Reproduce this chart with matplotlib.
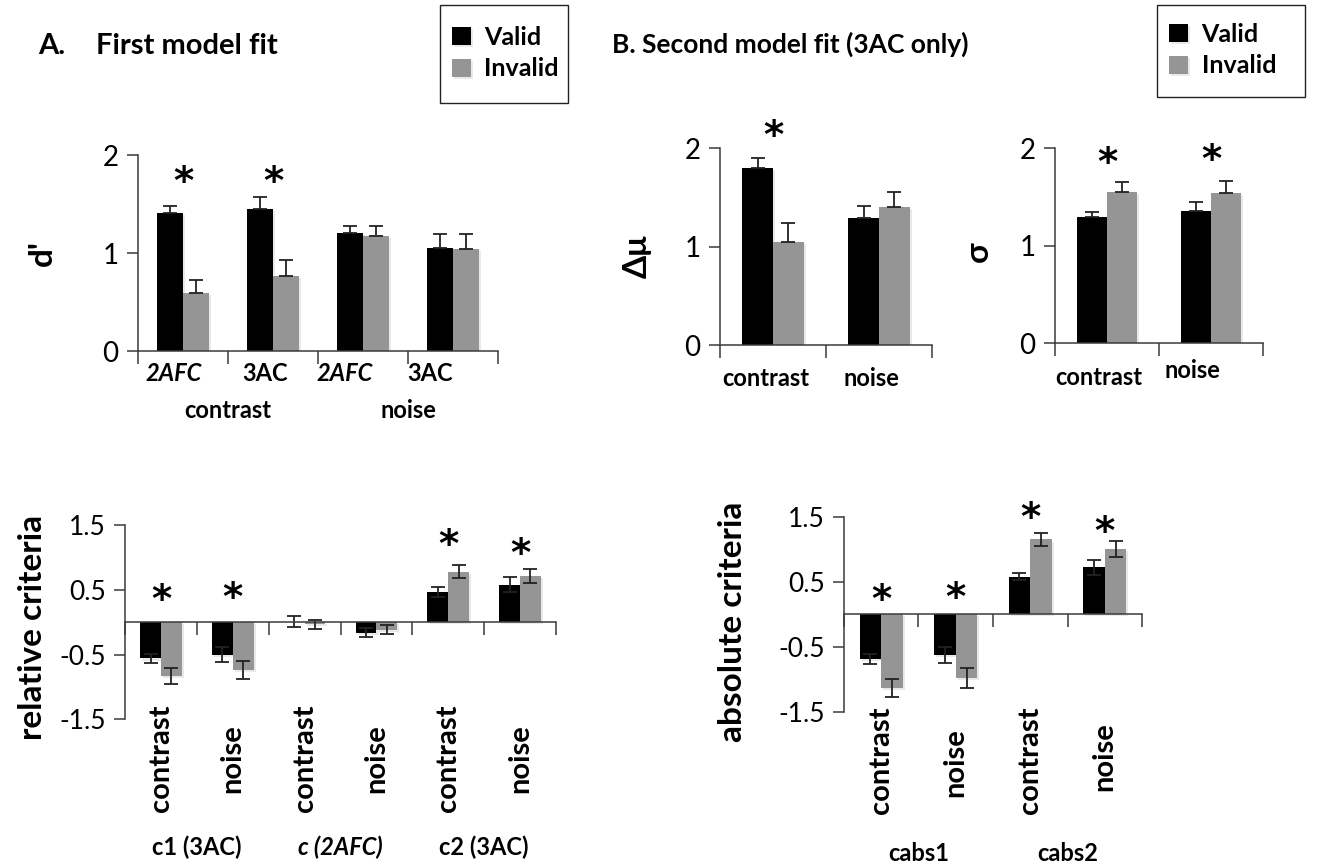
import numpy as np
import matplotlib
matplotlib.use("Agg")
import matplotlib.pyplot as plt
import matplotlib.transforms as mtransforms
from matplotlib import patheffects as pe
from matplotlib.patches import Rectangle

plt.rcParams['font.family'] = ['Lato', 'DejaVu Sans']

# ---------------- data ----------------
dprime_cats = ["2AFC", "3AC", "2AFC", "3AC"]
dprime_groups = ["contrast", "noise"]
dprime_valid = [1.41, 1.445, 1.20, 1.05]
dprime_valid_err = [0.07, 0.13, 0.075, 0.14]
dprime_invalid = [0.595, 0.77, 1.17, 1.04]
dprime_invalid_err = [0.125, 0.16, 0.105, 0.15]
dprime_stars = [1.82, 1.82, None, None]

mu_cats = ["contrast", "noise"]
mu_valid = [1.80, 1.29]
mu_valid_err = [0.105, 0.12]
mu_invalid = [1.05, 1.40]
mu_invalid_err = [0.19, 0.16]
mu_stars = [2.22, None]

sig_cats = ["contrast", "noise"]
sig_valid = [1.29, 1.36]
sig_valid_err = [0.055, 0.085]
sig_invalid = [1.55, 1.54]
sig_invalid_err = [0.105, 0.125]
sig_stars = [1.95, 1.98]

rel_cats = ["contrast", "noise", "contrast", "noise", "contrast", "noise"]
rel_groups = ["c1 (3AC)", "c (2AFC)", "c2 (3AC)"]
rel_valid = [-0.56, -0.50, 0.01, -0.16, 0.46, 0.58]
rel_valid_err = [0.07, 0.12, 0.08, 0.07, 0.075, 0.12]
rel_invalid = [-0.83, -0.74, -0.03, -0.12, 0.78, 0.715]
rel_invalid_err = [0.12, 0.14, 0.07, 0.07, 0.10, 0.11]
rel_stars = [0.49, 0.52, None, None, 1.34, 1.21]

abs_cats = ["contrast", "noise", "contrast", "noise"]
abs_groups = ["cabs1", "cabs2"]
abs_valid = [-0.69, -0.63, 0.58, 0.72]
abs_valid_err = [0.08, 0.12, 0.06, 0.11]
abs_invalid = [-1.14, -0.98, 1.15, 1.00]
abs_invalid_err = [0.14, 0.155, 0.10, 0.12]
abs_stars = [0.37, 0.40, 1.63, 1.42]

series_names = ["Valid", "Invalid"]
BLACK = "#000000"
GRAY = "#959595"
AXC = "#3a3a3a"

# ---------------- layout ----------------
W, H = 1318, 865
fig = plt.figure(figsize=(W / 100, H / 100), dpi=100)


def rect(l, t, r, b):
    return [l / W, 1 - b / H, (r - l) / W, (b - t) / H]


shadow = [pe.SimplePatchShadow(offset=(1.5, -1.5), shadow_rgbFace="#c0c0c0", alpha=0.35), pe.Normal()]
BW = 0.29


def draw_bars(ax, valid, verr, invalid, ierr, one_sided):
    x = np.arange(len(valid))
    ekw = dict(ecolor="#222222", elinewidth=1.3, capsize=5, capthick=1.3)
    if one_sided:
        ve = [np.zeros(len(valid)), verr]
        ie = [np.zeros(len(invalid)), ierr]
    else:
        ve, ie = verr, ierr
    b1 = ax.bar(x - BW / 2, valid, BW, color=BLACK, yerr=ve, error_kw=ekw, label=series_names[0])
    b2 = ax.bar(x + BW / 2, invalid, BW, color=GRAY, yerr=ie, error_kw=ekw, label=series_names[1])
    for p in list(b1) + list(b2):
        p.set_path_effects(shadow)
    return b1, b2


def style_axes(ax, n, ylim, yticks, ylabels, tick_fs, zero_axis=False):
    ax.set_xlim(-0.5, n - 0.5)
    ax.set_ylim(*ylim)
    for s in ["top", "right"]:
        ax.spines[s].set_visible(False)
    for s in ["left", "bottom"]:
        ax.spines[s].set_color(AXC)
        ax.spines[s].set_linewidth(1.1)
    if zero_axis:
        ax.spines["bottom"].set_position(("data", 0))
    ax.set_xticks(np.arange(n + 1) - 0.5)
    ax.set_xticklabels([])
    ax.set_yticks(yticks)
    ax.set_yticklabels(ylabels, fontsize=tick_fs)
    ax.tick_params(axis="x", direction="out", length=9, width=1.1, color=AXC)
    ax.tick_params(axis="y", direction="out", length=8, width=1.1, color=AXC, pad=6)


def stars(ax, vals, fs=28):
    tr = mtransforms.offset_copy(ax.transData, fig=fig, y=-0.56 * fs, units="points")
    for i, v in enumerate(vals):
        if v is not None:
            ax.text(i, v, "*", transform=tr, ha="center", va="baseline",
                    fontsize=fs, fontweight="bold", family="DejaVu Sans", clip_on=False)


# ----- A top: d' -----
ax1 = fig.add_axes(rect(138, 155, 498, 351))
bars = draw_bars(ax1, dprime_valid, dprime_valid_err, dprime_invalid, dprime_invalid_err, True)
style_axes(ax1, 4, (0, 2), [0, 1, 2], ["0", "1", "2"], 20)
stars(ax1, dprime_stars)
trA = mtransforms.blended_transform_factory(ax1.transData, ax1.transAxes)
lab_shift = [-0.1, -0.09, -0.2, -0.26]
for i, c in enumerate(dprime_cats):
    ax1.text(i + lab_shift[i], -0.115, c, transform=trA, ha="center", va="center",
             fontsize=17, fontweight="bold", style="italic" if c == "2AFC" else "normal")
for g, name in enumerate(dprime_groups):
    ax1.text(2 * g + 0.5, -0.305, name, transform=trA, ha="center", va="center",
             fontsize=17, fontweight="bold")
ax1.set_ylabel("d'", fontsize=24, fontweight="bold")
ax1.yaxis.set_label_coords(-0.225, 0.5)

# ----- B top: delta mu -----
ax2 = fig.add_axes(rect(720, 148.3, 932, 345))
draw_bars(ax2, mu_valid, mu_valid_err, mu_invalid, mu_invalid_err, True)
style_axes(ax2, 2, (0, 2), [0, 1, 2], ["0", "1", "2"], 20)
stars(ax2, mu_stars)
trB = mtransforms.blended_transform_factory(ax2.transData, ax2.transAxes)
for i, c in enumerate(mu_cats):
    ax2.text(i - 0.07, -0.17, c, transform=trB, ha="center", va="center",
             fontsize=17, fontweight="bold")
ax2.set_ylabel("Δμ", fontsize=24, fontweight="bold")
ax2.yaxis.set_label_coords(-0.32, 0.45)

# ----- B top: sigma -----
ax3 = fig.add_axes(rect(1055, 148.3, 1263, 343))
draw_bars(ax3, sig_valid, sig_valid_err, sig_invalid, sig_invalid_err, True)
style_axes(ax3, 2, (0, 2), [0, 1, 2], ["0", "1", "2"], 20)
stars(ax3, sig_stars)
trC = mtransforms.blended_transform_factory(ax3.transData, ax3.transAxes)
sig_shift = [-0.08, -0.18]
sig_y = [-0.175, -0.14]
for i, c in enumerate(sig_cats):
    ax3.text(i + sig_shift[i], sig_y[i], c, transform=trC, ha="center", va="center",
             fontsize=17, fontweight="bold")
ax3.set_ylabel("σ", fontsize=24, fontweight="bold")
ax3.yaxis.set_label_coords(-0.30, 0.47)

# ----- A bottom: relative criteria -----
ax4 = fig.add_axes(rect(125, 525, 556, 719.3))
draw_bars(ax4, rel_valid, rel_valid_err, rel_invalid, rel_invalid_err, False)
style_axes(ax4, 6, (-1.5, 1.5), [-1.5, -0.5, 0.5, 1.5], ["-1.5", "-0.5", "0.5", "1.5"], 19,
           zero_axis=True)
stars(ax4, rel_stars)
trD = mtransforms.blended_transform_factory(ax4.transData, ax4.transAxes)
for i, c in enumerate(rel_cats):
    ax4.text(i, -0.2, c, transform=trD, ha="center", va="center", rotation=90,
             fontsize=21, fontweight="bold")
for g, name in enumerate(rel_groups):
    ax4.text(2 * g + 0.5, -0.66, name, transform=trD, ha="center", va="center",
             fontsize=17, fontweight="bold", style="italic" if "2AFC" in name else "normal")
ax4.set_ylabel("relative criteria", fontsize=24, fontweight="bold")
ax4.yaxis.set_label_coords(-0.18, 0.475)

# ----- B bottom: absolute criteria -----
ax5 = fig.add_axes(rect(844, 516.7, 1142, 711.7))
draw_bars(ax5, abs_valid, abs_valid_err, abs_invalid, abs_invalid_err, False)
style_axes(ax5, 4, (-1.5, 1.5), [-1.5, -0.5, 0.5, 1.5], ["-1.5", "-0.5", "0.5", "1.5"], 19,
           zero_axis=True)
stars(ax5, abs_stars)
trE = mtransforms.blended_transform_factory(ax5.transData, ax5.transAxes)
abs_y = [-0.25, -0.26, -0.25, -0.23]
for i, c in enumerate(abs_cats):
    ax5.text(i, abs_y[i], c, transform=trE, ha="center", va="center", rotation=90,
             fontsize=21, fontweight="bold")
for g, name in enumerate(abs_groups):
    ax5.text(2 * g + 0.5, -0.725, name, transform=trE, ha="center", va="center",
             fontsize=17, fontweight="bold")
ax5.set_ylabel("absolute criteria", fontsize=24, fontweight="bold")
ax5.yaxis.set_label_coords(-0.325, 0.46)

# ----- titles -----
fig.text(38 / W, 1 - 46 / H, "A.", fontsize=21, fontweight="bold", ha="left", va="center")
fig.text(96 / W, 1 - 46 / H, "First model fit", fontsize=21, fontweight="bold",
         ha="left", va="center")
fig.text(612 / W, 1 - 44 / H, "B. Second model fit (3AC only)", fontsize=19, fontweight="bold",
         ha="left", va="center")

# ----- legends -----
handles = list(bars)
legkw = dict(frameon=False, handlelength=0.75, handleheight=0.75, handletextpad=0.55,
             labelspacing=0.35, borderpad=0.0, prop=dict(weight="bold", size=18),
             borderaxespad=0)
for (bl, bt, br, bb) in [(440, 5, 568, 103), (1157, 5, 1305, 97)]:
    fig.patches.append(Rectangle((bl / W, 1 - bb / H), (br - bl) / W, (bb - bt) / H,
                                 transform=fig.transFigure, fill=False,
                                 edgecolor="#222222", linewidth=1.0))
    fig.legend(handles, series_names, loc="center left",
               bbox_to_anchor=((bl + 12) / W, 1 - ((bt + bb) / 2 - 1) / H), **legkw)

fig.savefig("out.png", dpi=100, facecolor="white")
